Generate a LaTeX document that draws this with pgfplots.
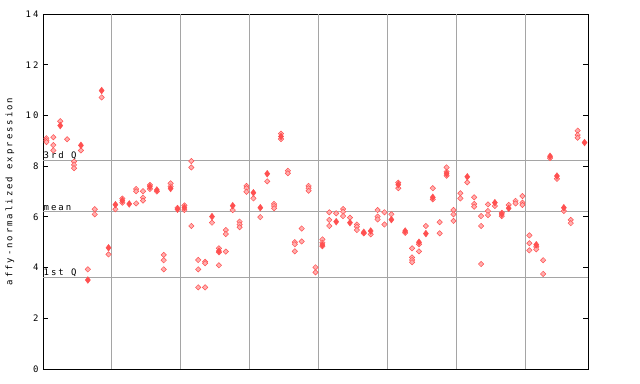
\documentclass[border=0pt]{standalone}
\usepackage{fontspec}
\usepackage{pgfplots}
\usepackage{pgfplotstable}
\pgfplotsset{compat=1.18}
\newfontfamily\lab[LetterSpace=22]{DejaVu Sans Mono}
\definecolor{redf}{RGB}{255,80,80}
\definecolor{redh}{RGB}{255,175,175}
\definecolor{gridg}{RGB}{165,165,165}

\pgfplotstableread{
x y
0 9.10
0 9.02
0 8.95
1 9.14
1 8.83
1 8.62
2 9.77
3 9.06
4 8.18
4 8.05
4 7.92
5 8.62
6 3.93
7 6.30
7 6.10
8 10.71
9 4.52
10 6.30
11 6.72
11 6.56
13 7.10
13 7.01
13 6.53
14 7.01
14 6.76
14 6.64
15 7.26
15 7.10
16 7.00
17 4.50
17 4.29
17 3.93
18 7.32
18 7.20
19 6.35
20 6.45
20 6.27
21 8.20
21 7.95
21 5.64
22 4.30
22 3.93
22 3.22
23 4.23
23 4.17
23 3.22
24 5.77
25 4.76
25 4.60
25 4.09
26 5.48
26 5.32
26 4.63
27 6.27
28 5.81
28 5.70
28 5.59
29 7.22
29 7.13
29 6.99
30 6.73
31 5.99
32 7.40
33 6.51
33 6.43
33 6.34
34 9.28
34 9.07
35 7.82
35 7.72
36 5.00
36 4.92
36 4.64
37 5.54
37 5.03
38 7.22
38 7.13
38 7.03
39 4.01
39 3.81
40 5.11
40 4.98
40 4.84
41 6.18
41 5.88
41 5.64
42 6.14
43 6.31
43 6.20
43 6.03
44 5.97
45 5.70
45 5.61
45 5.48
46 5.35
47 5.31
48 6.27
48 6.01
48 5.90
49 6.18
49 5.70
50 6.10
51 7.35
51 7.13
52 5.37
53 4.76
53 4.40
53 4.30
53 4.21
54 4.92
54 4.64
55 5.64
56 7.13
56 6.69
57 5.79
57 5.35
58 7.95
58 7.78
58 7.62
59 6.27
59 6.10
59 5.84
60 6.93
60 6.73
61 7.36
62 6.77
62 6.51
62 6.40
63 6.03
63 5.64
63 4.14
64 6.49
64 6.23
64 6.07
65 6.43
66 6.16
66 6.03
67 6.47
68 6.63
68 6.53
69 6.82
69 6.56
69 6.47
70 5.27
70 4.96
70 4.68
71 4.82
71 4.72
72 4.29
72 3.75
73 8.32
74 7.50
75 6.23
76 5.88
76 5.75
77 9.40
77 9.23
77 9.12
}\hatched

\pgfplotstableread{
x y
2 9.60
5 8.82
6 3.51
8 10.98
9 4.78
10 6.48
11 6.64
12 6.51
15 7.19
16 7.06
18 7.12
19 6.30
20 6.36
24 6.01
25 4.65
27 6.44
30 6.95
31 6.36
32 7.70
34 9.17
40 4.89
42 5.81
44 5.77
46 5.39
47 5.44
50 5.89
51 7.27
52 5.44
54 5.00
55 5.34
56 6.77
58 7.70
61 7.58
65 6.56
66 6.11
67 6.34
71 4.90
73 8.39
74 7.61
75 6.36
78 8.93
}\filled

\begin{document}
\begin{tikzpicture}
\path[use as bounding box] (-43bp,-15bp) rectangle (597bp,369bp);
\begin{axis}[
  scale only axis,
  width=545bp, height=355bp,
  xmin=-0.5, xmax=78.5, ymin=0, ymax=14,
  xtick=\empty,
  extra x ticks={9.5,19.5,29.5,39.5,49.5,59.5,69.5},
  extra x tick labels={},
  extra x tick style={grid=major, major tick length=0pt},
  ytick={0,2,4,6,8,10,12,14},
  ytick pos=both,
  tick align=inside,
  major tick length=5bp,
  tick style={black, line width=0.8bp},
  major grid style={gridg, line width=1bp},
  axis line style={black, line width=0.8bp},
  /pgf/number format/assume math mode=true,
  yticklabel style={font=\lab\fontsize{9}{10}\selectfont, xshift=-1bp},
  ylabel={affy-normalized expression},
  every axis y label/.style={at={([xshift=-33bp]rel axis cs:0,0.5)}, rotate=90, anchor=center, font=\lab\fontsize{9}{10}\selectfont},
  clip=false,
]
\addplot[gridg, line width=1bp, forget plot] coordinates {(-0.5,8.23) (78.5,8.23)};
\addplot[gridg, line width=1bp, forget plot] coordinates {(-0.5,6.21) (78.5,6.21)};
\addplot[gridg, line width=1bp, forget plot] coordinates {(-0.5,3.62) (78.5,3.62)};
\node[anchor=south west, inner sep=0.5bp, font=\lab\fontsize{9}{10}\selectfont] at (axis cs:-0.5,8.23) {3rd Q};
\node[anchor=south west, inner sep=0.5bp, font=\lab\fontsize{9}{10}\selectfont] at (axis cs:-0.5,6.21) {mean};
\node[anchor=south west, inner sep=0.5bp, font=\lab\fontsize{9}{10}\selectfont] at (axis cs:-0.5,3.62) {1st Q};
\addplot[only marks, mark=square*, mark size=1.9bp, mark options={rotate=45, draw=redf, fill=redh, line width=0.5bp}] table[x=x, y=y] {\hatched};
\addplot[only marks, mark=diamond*, mark size=3.4bp, mark options={draw=redf, fill=redf, line width=0.4bp}] table[x=x, y=y] {\filled};
\end{axis}
\end{tikzpicture}
\end{document}
